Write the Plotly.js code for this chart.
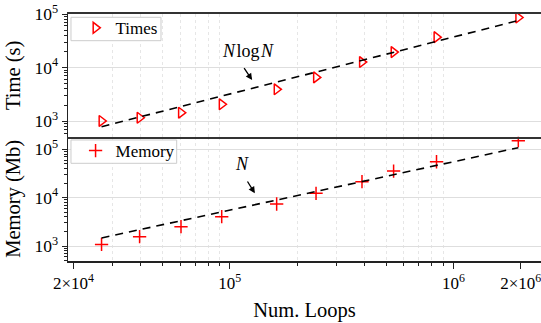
<!DOCTYPE html>
<html>
<head>
<meta charset="utf-8">
<script src="https://cdn.plot.ly/plotly-3.0.1.min.js"></script>
<style>html,body{margin:0;padding:0;background:#fff}#chart{width:541px;height:323px}</style>
</head>
<body>
<div id="chart"></div>
<script>
// ---- data ----
const loops  = [26700, 39500, 60500, 92000, 162000, 243000, 390000, 540000, 840000, 1950000];
const times  = [1010, 1160, 1440, 2070, 3940, 6560, 12700, 19500, 37000, 86000];
const memory = [1080, 1560, 2510, 4040, 7400, 12300, 21400, 35500, 55400, 151000];

const fitLoopsTime = [26700, 162000, 1950000];
const fitTimes     = [790, 5400, 75500];
const fitLoopsMem  = [26700, 1950000];
const fitMemory    = [1470, 108000];

const xTickVals = [20000, 100000, 1000000, 2000000];
const xTickText = ['2×10<sup>4</sup>', '10<sup>5</sup>', '10<sup>6</sup>', '2×10<sup>6</sup>'];
const xMinorVals = [30000, 40000, 50000, 60000, 70000, 80000, 90000,
                    200000, 300000, 400000, 500000, 600000, 700000, 800000, 900000];
const yTickVals = [1000, 10000, 100000];
const yTickText = ['10<sup>3</sup>', '10<sup>4</sup>', '10<sup>5</sup>'];
const yMinorVals = [500, 600, 700, 800, 900,
                    2000, 3000, 4000, 5000, 6000, 7000, 8000, 9000,
                    20000, 30000, 40000, 50000, 60000, 70000, 80000, 90000];

const FONT = 'Liberation Serif, Times New Roman, serif';
const RED = '#ff0000';

const traces = [
  {x: loops, y: times, xaxis: 'x2', yaxis: 'y2', type: 'scatter', mode: 'markers', name: 'Times',
   legend: 'legend',
   marker: {symbol: 'triangle-right-open', size: 9.5, color: RED, line: {color: RED, width: 1.5}}},
  {x: fitLoopsTime, y: fitTimes, xaxis: 'x2', yaxis: 'y2', type: 'scatter', mode: 'lines',
   showlegend: false, line: {color: '#000', width: 1.6, dash: '8px,6px'}},
  {x: loops, y: memory, xaxis: 'x', yaxis: 'y', type: 'scatter', mode: 'markers', name: 'Memory',
   legend: 'legend2',
   marker: {symbol: 'cross-thin-open', size: 9.5, color: RED, line: {color: RED, width: 1.5}}},
  {x: fitLoopsMem, y: fitMemory, xaxis: 'x', yaxis: 'y', type: 'scatter', mode: 'lines',
   showlegend: false, line: {color: '#000', width: 1.6, dash: '8px,6px'}}
];

const minorX = {tickmode: 'array', tickvals: xMinorVals, showgrid: true, gridcolor: '#e6e6e6',
                gridwidth: 1, griddash: '3px,3px'};
const yCommon = {
  type: 'log', showline: true, linecolor: '#222', linewidth: 1.5, mirror: false,
  ticks: 'outside', ticklen: 5, tickwidth: 1, tickcolor: '#222',
  tickmode: 'array', tickvals: yTickVals, ticktext: yTickText,
  minor: {tickmode: 'array', tickvals: yMinorVals, ticks: 'outside', ticklen: 2.5, tickwidth: 1,
          tickcolor: '#222', showgrid: false},
  showgrid: true, gridcolor: '#dedede', gridwidth: 1, zeroline: false,
  tickfont: {family: FONT, size: 17.5, color: '#000'},
  automargin: false
};

const legendCommon = {xanchor: 'left', yanchor: 'top', bgcolor: 'rgba(0,0,0,0)',
                      borderwidth: 0, font: {family: FONT, size: 17, color: '#000'}};

const layout = {
  width: 541, height: 323,
  margin: {l: 68, r: 0, t: 14, b: 62},
  paper_bgcolor: '#fff', plot_bgcolor: '#fff',
  font: {family: FONT, color: '#000', size: 16},
  xaxis: {
    type: 'log', range: [4.2765, 6.3915], anchor: 'y', domain: [0, 1],
    showline: true, linecolor: '#222', linewidth: 2, mirror: false,
    ticks: 'outside', ticklen: 6, tickwidth: 1.2, tickcolor: '#222',
    tickmode: 'array', tickvals: xTickVals, ticktext: xTickText,
    ticklabeloverflow: 'allow',
    minor: Object.assign({ticks: 'outside', ticklen: 3, tickwidth: 1, tickcolor: '#222'}, minorX),
    showgrid: false, zeroline: false,
    tickfont: {family: FONT, size: 17, color: '#000'},
    title: {text: 'Num. Loops', font: {family: FONT, size: 20.5, color: '#000'}, standoff: 10},
    automargin: false
  },
  xaxis2: {
    type: 'log', range: [4.2765, 6.3915], anchor: 'y2', domain: [0, 1],
    showline: true, linecolor: '#333', linewidth: 2, mirror: true,
    ticks: '', showticklabels: false,
    minor: Object.assign({ticks: ''}, minorX),
    showgrid: false, zeroline: false, automargin: false
  },
  yaxis: Object.assign({}, yCommon, {
    domain: [0, 0.503], range: [2.69, 5.26], anchor: 'x',
    title: {text: 'Memory (Mb)', font: {family: FONT, size: 20.5, color: '#000'}, standoff: 8}
  }),
  yaxis2: Object.assign({}, yCommon, {
    domain: [0.503, 1], range: [2.71, 5.0], anchor: 'x2',
    title: {text: 'Time (s)', font: {family: FONT, size: 20.5, color: '#000'}, standoff: 8}
  }),
  legend: Object.assign({x: 0.016, y: 1.015}, legendCommon),
  legend2: Object.assign({x: 0.016, y: 0.518}, legendCommon),
  shapes: [
    {type: 'rect', xref: 'paper', yref: 'paper', x0: 0.0063, x1: 0.1966, y0: 0.8919, y1: 0.9866,
     line: {color: '#cccccc', width: 1}, fillcolor: '#ffffff', layer: 'above'},
    {type: 'rect', xref: 'paper', yref: 'paper', x0: 0.0063, x1: 0.2298, y0: 0.3955, y1: 0.4899,
     line: {color: '#cccccc', width: 1}, fillcolor: '#ffffff', layer: 'above'}
  ],
  annotations: [
    {xref: 'x2', yref: 'y2', x: 5.0805, y: 4.312, text: '<i>N</i>\u200Alog\u200A<i>N</i>',
     showarrow: false, xanchor: 'center', yanchor: 'middle',
     font: {family: FONT, size: 18, color: '#000'}},
    {xref: 'x2', yref: 'y2', x: 5.0998, y: 3.770, text: '', showarrow: true,
     ax: -9, ay: -13.3, arrowhead: 2, arrowsize: 1, arrowwidth: 1.3, arrowcolor: '#000', standoff: 0},
    {xref: 'x', yref: 'y', x: 5.054, y: 4.696, text: '<i>N</i>',
     showarrow: false, xanchor: 'center', yanchor: 'middle',
     font: {family: FONT, size: 18, color: '#000'}},
    {xref: 'x', yref: 'y', x: 5.112, y: 4.090, text: '', showarrow: true,
     ax: -8.3, ay: -13.3, arrowhead: 2, arrowsize: 1, arrowwidth: 1.3, arrowcolor: '#000', standoff: 0}
  ]
};

Plotly.newPlot('chart', traces, layout, {displayModeBar: false, staticPlot: true});
</script>
</body>
</html>
